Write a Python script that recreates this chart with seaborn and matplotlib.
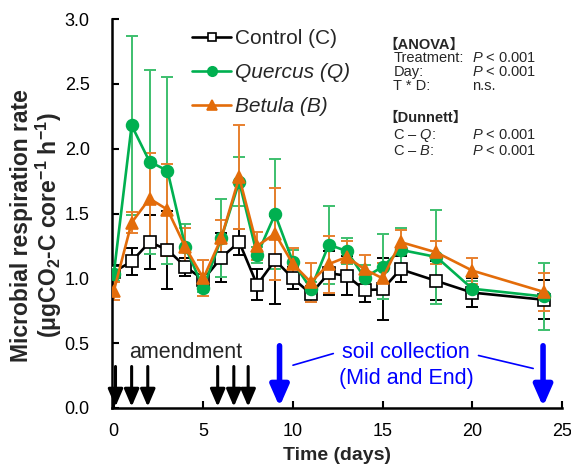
import numpy as np
import pandas as pd
import matplotlib
matplotlib.use("Agg")
import matplotlib.pyplot as plt
import seaborn as sns

days = [0, 1, 2, 3, 4, 5, 6, 7, 8, 9, 10, 11, 12, 13, 14, 15, 16, 18, 20, 24]
control = [1.05, 1.13, 1.28, 1.22, 1.09, 0.99, 1.16, 1.28, 0.95, 1.14, 1.00, 0.88, 1.04, 1.02, 0.91, 0.915, 1.07, 0.98, 0.89, 0.835]
control_err = [0.05, 0.105, 0.21, 0.30, 0.07, 0.03, 0.19, 0.10, 0.12, 0.34, 0.085, 0.06, 0.17, 0.15, 0.09, 0.24, 0.10, 0.15, 0.11, 0.15]
quercus = [1.03, 2.18, 1.90, 1.83, 1.24, 0.925, 1.31, 1.745, 1.18, 1.495, 1.125, 0.92, 1.26, 1.21, 1.005, 1.09, 1.22, 1.165, 0.92, 0.86]
quercus_err = [0.05, 0.69, 0.71, 0.72, 0.18, 0.03, 0.30, 0.19, 0.06, 0.425, 0.09, 0.05, 0.30, 0.10, 0.10, 0.25, 0.17, 0.36, 0.06, 0.26]
betula = [0.90, 1.43, 1.615, 1.53, 1.24, 1.00, 1.31, 1.78, 1.25, 1.345, 1.11, 0.97, 1.11, 1.165, 1.07, 1.00, 1.28, 1.20, 1.06, 0.895]
betula_err = [0.07, 0.08, 0.355, 0.355, 0.15, 0.14, 0.14, 0.40, 0.11, 0.355, 0.125, 0.15, 0.22, 0.12, 0.11, 0.12, 0.09, 0.09, 0.10, 0.15]

labels = ["Control (C)", "Quercus (Q)", "Betula (B)"]
amend_days = [0.1, 1.0, 1.9, 5.8, 6.7, 7.5]
collect_days = [9.25, 23.95]

sns.set_style("ticks")
plt.rcParams['font.family'] = ['Liberation Sans', 'Noto Sans CJK JP', 'DejaVu Sans']
plt.rcParams['mathtext.fontset'] = 'custom'
plt.rcParams['mathtext.rm'] = 'Liberation Sans'
plt.rcParams['mathtext.bf'] = 'Liberation Sans:bold'
plt.rcParams['mathtext.it'] = 'Liberation Sans:italic'

fig = plt.figure(figsize=(5.71, 4.65), dpi=100)
ax = fig.add_axes([0.196, 0.1226, 0.788, 0.8364])

df = pd.DataFrame({
    "day": days * 3,
    "rate": control + quercus + betula,
    "err": control_err + quercus_err + betula_err,
    "group": [labels[0]] * len(days) + [labels[1]] * len(days) + [labels[2]] * len(days),
})

colors = {labels[0]: "black", labels[1]: "#00B050", labels[2]: "#E36C0A"}
ecolors = {labels[0]: "black", labels[1]: "#3DBF6E", labels[2]: "#E8802E"}
markers = {labels[0]: "s", labels[1]: "o", labels[2]: "^"}
msizes = {labels[0]: 8, labels[1]: 8.5, labels[2]: 9}
mfc = {labels[0]: "white", labels[1]: "#00B050", labels[2]: "#E36C0A"}

for g in labels:
    sub = df[df.group == g]
    ax.errorbar(sub.day, sub.rate, yerr=sub.err, fmt="none", ecolor=ecolors[g],
                elinewidth=1.4, capsize=4, capthick=1.4, zorder=2)
    sns.lineplot(data=sub, x="day", y="rate", ax=ax, color=colors[g], marker=markers[g],
                 markersize=msizes[g], markerfacecolor=mfc[g],
                 markeredgecolor=colors[g], markeredgewidth=1.2, linewidth=1.9,
                 label=g, zorder=3, errorbar=None)

ax.set_xlim(-0.1, 25)
ax.set_ylim(0, 3.0)
ax.set_xticks([0, 5, 10, 15, 20, 25])
ax.set_yticks([0, 0.5, 1.0, 1.5, 2.0, 2.5, 3.0])
ax.set_yticklabels(["0.0", "0.5", "1.0", "1.5", "2.0", "2.5", "3.0"])
ax.tick_params(direction="in", length=5, width=1.5, labelsize=13, colors="black")
ax.tick_params(axis="y", pad=16)
ax.tick_params(axis="x", pad=11)
for s in ["top", "right"]:
    ax.spines[s].set_visible(False)
for s in ["left", "bottom"]:
    ax.spines[s].set_linewidth(1.8)
    ax.spines[s].set_color("black")

ax.set_xlabel("Time (days)", fontsize=14, fontweight="bold", labelpad=5)
ax.set_ylabel("Microbial respiration rate\n(μgCO$_\\mathbf{2}$-C core$^\\mathbf{-1}$ h$^\\mathbf{-1}$)",
              fontsize=16.5, fontweight="bold", linespacing=1.05)
ax.yaxis.set_label_coords(-0.106, 0.47)

leg = ax.legend(loc="upper left", bbox_to_anchor=(0.16, 0.995), frameon=False, borderaxespad=0,
                fontsize=15, handlelength=1.85, labelspacing=0.72, handletextpad=0.2, markerscale=0.8)
for t in leg.get_texts()[1:]:
    t.set_fontstyle("italic")

# statistics block
fs = 10.5
ax.text(15.05, 2.80, "【ANOVA】", fontsize=fs, fontweight="bold", va="center")
rows = [("Treatment:", "$P$ < 0.001", 2.70), ("Day:", "$P$ < 0.001", 2.59), ("T * D:", "n.s.", 2.48)]
for a, b, y in rows:
    ax.text(15.6, y, a, fontsize=fs, va="center")
    ax.text(20.0, y, b, fontsize=fs, va="center")
ax.text(15.05, 2.235, "【Dunnett】", fontsize=fs, fontweight="bold", va="center")
ax.text(15.6, 2.105, "C – $Q$:", fontsize=fs, va="center")
ax.text(20.0, 2.105, "$P$ < 0.001", fontsize=fs, va="center")
ax.text(15.6, 1.98, "C – $B$:", fontsize=fs, va="center")
ax.text(20.0, 1.98, "$P$ < 0.001", fontsize=fs, va="center")

# arrows
for d in amend_days:
    ax.annotate("", xy=(d, 0.01), xytext=(d, 0.32),
                arrowprops=dict(arrowstyle="-|>,head_length=1.05,head_width=0.45", color="black", lw=2.2,
                                shrinkA=0, shrinkB=0, mutation_scale=10), zorder=5)
for d in collect_days:
    ax.annotate("", xy=(d, 0.01), xytext=(d, 0.48),
                arrowprops=dict(arrowstyle="-|>,head_length=1.25,head_width=0.55", color="#0000FF", lw=4,
                                shrinkA=0, shrinkB=0, mutation_scale=10), zorder=5)
ax.text(0.85, 0.43, "amendment", fontsize=15.5, va="center", ha="left")
ax.text(16.3, 0.43, "soil collection", fontsize=15.5, va="center", ha="center", color="#0000FF")
ax.text(16.3, 0.225, "(Mid and End)", fontsize=15.5, va="center", ha="center", color="#0000FF")
ax.plot([10.0, 12.25], [0.33, 0.42], color="#0000FF", lw=1.2)
ax.plot([20.35, 23.4], [0.405, 0.305], color="#0000FF", lw=1.2)

fig.savefig("out.png", dpi=100)
